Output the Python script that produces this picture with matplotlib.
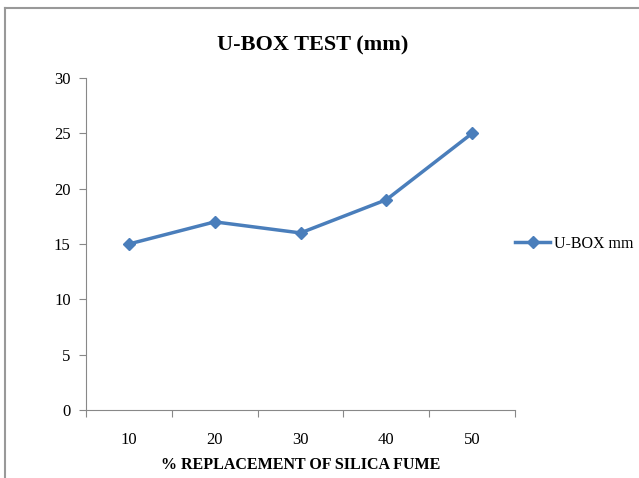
# U-Box test line chart
import matplotlib.pyplot as plt
from matplotlib.lines import Line2D

plt.rcParams['font.family'] = ['Liberation Serif', 'DejaVu Serif']

# Data
replacement = ['10', '20', '30', '40', '50']
ubox_mm = [15, 17, 16, 19, 25]
y_ticks = [0, 5, 10, 15, 20, 25, 30]


def main():
    fig = plt.figure(figsize=(6.39, 4.78), dpi=100)
    ax = fig.add_axes([0.1346, 0.1423, 0.6714, 0.6945])

    blue = '#4a7ebb'
    x = list(range(len(replacement)))
    ax.plot(x, ubox_mm, color=blue, linewidth=2.5, marker='D',
            markersize=6.5, label='U-BOX mm')

    # Axes styling like Excel
    ax.set_xlim(-0.5, len(replacement) - 0.5)
    ax.set_ylim(0, 30)
    ax.set_yticks(y_ticks)
    ax.set_yticklabels([str(v) for v in y_ticks], fontsize=12)
    ax.set_xticks([i - 0.5 for i in range(len(replacement) + 1)])
    ax.set_xticklabels([])
    ax.set_xticks(x, minor=True)
    ax.set_xticklabels(replacement, minor=True, fontsize=12)
    ax.tick_params(axis='x', which='minor', length=0, pad=16)
    ax.tick_params(axis='x', which='major', length=5, color='#888888')
    ax.tick_params(axis='y', length=5, color='#888888', pad=6)
    for side in ['top', 'right']:
        ax.spines[side].set_visible(False)
    for side in ['left', 'bottom']:
        ax.spines[side].set_color('#888888')

    # Title and label
    fig.text(0.49, 0.905, 'U-BOX TEST (mm)', ha='center', va='center',
             fontsize=16, fontweight='bold')
    fig.text(0.47, 0.027, '% REPLACEMENT OF SILICA FUME', ha='center',
             va='center', fontsize=11.5, fontweight='bold')

    # Legend
    ax.legend(loc='center left', bbox_to_anchor=(0.967, 0.5), frameon=False,
              fontsize=11.5, handlelength=2.2, handletextpad=0.2)

    # Outer frame (top and left edge)
    fig.add_artist(Line2D([0.008, 0.008], [0.0, 0.983], color='#999999',
                          linewidth=1.5, transform=fig.transFigure))
    fig.add_artist(Line2D([0.008, 1.0], [0.983, 0.983], color='#999999',
                          linewidth=1.5, transform=fig.transFigure))

    fig.savefig('out.png', dpi=100)


main()
